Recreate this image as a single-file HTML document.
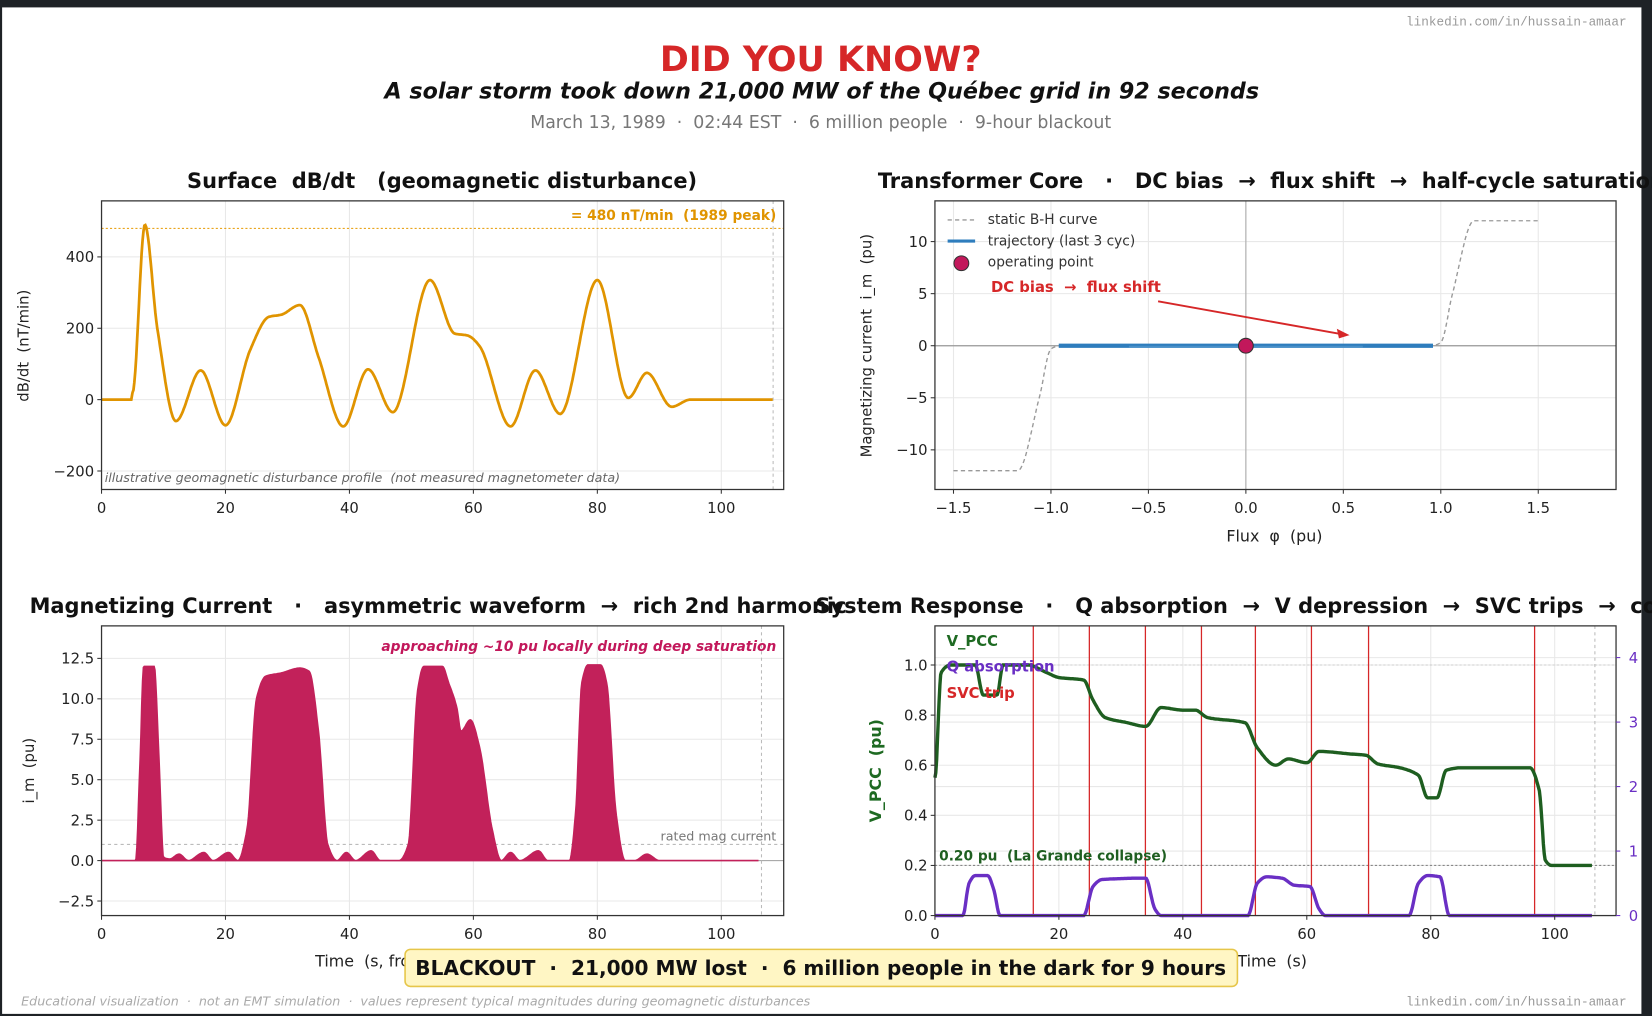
<!DOCTYPE html>
<html><head><meta charset="utf-8"><style>
html,body{margin:0;padding:0;background:#222;}
svg{display:block}
text{font-family:"DejaVu Sans","Liberation Sans",sans-serif;white-space:pre}
</style></head><body>
<svg id="s" width="1652" height="1016" viewBox="0 0 1562 961" preserveAspectRatio="none" xmlns="http://www.w3.org/2000/svg" xml:space="preserve">
<rect x="0" y="0" width="1562" height="961" fill="#1e2226"/>
<rect x="2" y="7" width="1550" height="952" fill="#ffffff"/>
<text x="1538" y="24" font-size="12" fill="#999" text-anchor="end" style="font-family:'Liberation Mono',monospace">linkedin.com/in/hussain-amaar</text>
<text x="776" y="67" font-size="33" font-weight="bold" fill="#d62728" text-anchor="middle">DID YOU KNOW?</text>
<text x="777" y="93" font-size="21" font-weight="bold" font-style="italic" fill="#111" text-anchor="middle">A solar storm took down 21,000 MW of the Québec grid in 92 seconds</text>
<text x="776" y="121" font-size="16.4" fill="#777" text-anchor="middle">March 13, 1989  ·  02:44 EST  ·  6 million people  ·  9-hour blackout</text>

<g id="g1"></g><g id="g2"></g><g id="g3"></g><g id="g4"></g>

<rect x="383" y="898" width="787" height="35" rx="5" fill="#fff6c4" stroke="#e6c64a" stroke-width="1.5"/>
<text x="776" y="922" font-size="19" font-weight="bold" fill="#111" text-anchor="middle">BLACKOUT  ·  21,000 MW lost  ·  6 million people in the dark for 9 hours</text>
<text x="20" y="951" font-size="12" font-style="italic" fill="#aaa">Educational visualization  ·  not an EMT simulation  ·  values represent typical magnitudes during geomagnetic disturbances</text>
<text x="1538" y="951" font-size="12" fill="#999" text-anchor="end" style="font-family:'Liberation Mono',monospace">linkedin.com/in/hussain-amaar</text>
</svg>
<script>
const NS="http://www.w3.org/2000/svg";
const TF=19.8;
function el(p,t,a,txt){const e=document.createElementNS(NS,t);for(const k in a)e.setAttribute(k,a[k]);if(txt!=null)e.textContent=txt;p.appendChild(e);return e;}
function interp(pts,t){
 const n=pts.length;
 if(t<=pts[0][0])return pts[0][1];
 if(t>=pts[n-1][0])return pts[n-1][1];
 function m(i){if(i<=0||i>=n-1)return 0;const a=pts[i-1],b=pts[i],c=pts[i+1];const s1=(b[1]-a[1])/(b[0]-a[0]),s2=(c[1]-b[1])/(c[0]-b[0]);if(s1*s2<=0)return 0;return 2/(1/s1+1/s2);}
 for(let i=0;i<n-1;i++){const a=pts[i],b=pts[i+1];if(t<=b[0]){const h=b[0]-a[0],u=(t-a[0])/h;const h00=2*u*u*u-3*u*u+1,h10=u*u*u-2*u*u+u,h01=-2*u*u*u+3*u*u,h11=u*u*u-u*u;return h00*a[1]+h10*h*m(i)+h01*b[1]+h11*h*m(i+1);}}
 return pts[n-1][1];}
function path(pts,t0,t1,fx,fy,n){let d="";for(let i=0;i<=n;i++){const t=t0+(t1-t0)*i/n;d+=(i?"L":"M")+fx(t).toFixed(1)+" "+fy(interp(pts,t)).toFixed(1);}return d;}
function axes(g,x0,y0,x1,y1){el(g,"rect",{x:x0,y:y0,width:x1-x0,height:y1-y0,fill:"none",stroke:"#333","stroke-width":1.2});}
function grid(g,x0,y0,x1,y1,xs,ys){xs.forEach(x=>el(g,"line",{x1:x,x2:x,y1:y0,y2:y1,stroke:"#e8e8e8"}));ys.forEach(y=>el(g,"line",{x1:x0,x2:x1,y1:y,y2:y,stroke:"#e8e8e8"}));}
function yt(g,x,y,s,col){el(g,"line",{x1:x-4,x2:x,y1:y,y2:y,stroke:col||"#333"});el(g,"text",{x:x-7,y:y+5,"font-size":14,"text-anchor":"end",fill:col||"#222"},s);}
function xt(g,x,y,s){el(g,"line",{x1:x,x2:x,y1:y,y2:y+4,stroke:"#333"});el(g,"text",{x:x,y:y+22,"font-size":14,"text-anchor":"middle",fill:"#222"},s);}
const fxT=t=>96+t*5.86;
// Panel 1
(function(){const g=document.getElementById("g1");const fy=v=>378-v*0.3375;
grid(g,96,190,741,463,[0,20,40,60,80,100].map(fxT),[400,200,0,-200].map(fy));
el(g,"line",{x1:96,x2:741,y1:fy(480),y2:fy(480),stroke:"#e69a00","stroke-dasharray":"2,2","stroke-width":1});
el(g,"line",{x1:731,x2:731,y1:190,y2:463,stroke:"#bbb","stroke-dasharray":"3,3"});
const pts=[[5,20],[7,490],[9,200],[12,-60],[16,82],[20,-72],[24,140],[27,232],[29,238],[32,265],[35,120],[39,-75],[43,85],[47,-35],[53,335],[57,185],[59,180],[61,150],[66,-75],[70,82],[74,-40],[80,335],[85,5],[88,75],[92,-20],[95,0],[108.3,0]];
let d="M96 378L"+fxT(4.8)+" 378L"+fxT(5)+" "+fy(20)+path(pts,5,108.3,fxT,fy,700).replace(/^M/,"L");
el(g,"path",{d:d,fill:"none",stroke:"#e09400","stroke-width":2.6});
axes(g,96,190,741,463);
[[400,"400"],[200,"200"],[0,"0"],[-200,"−200"]].forEach(a=>yt(g,96,fy(a[0]),a[1]));
[0,20,40,60,80,100].forEach(t=>xt(g,fxT(t),463,t));
el(g,"text",{x:734,y:208,"font-size":13,"font-weight":"bold",fill:"#e09400","text-anchor":"end"},"= 480 nT/min  (1989 peak)");
el(g,"text",{x:99,y:456,"font-size":12,"font-style":"italic",fill:"#666"},"illustrative geomagnetic disturbance profile  (not measured magnetometer data)");
el(g,"text",{x:418,y:178,"font-size":TF,"font-weight":"bold","text-anchor":"middle",fill:"#111"},"Surface  dB/dt   (geomagnetic disturbance)");
el(g,"text",{transform:"translate(27,327) rotate(-90)","font-size":14,"text-anchor":"middle",fill:"#222"},"dB/dt  (nT/min)");
})();
// Panel 2
(function(){const g=document.getElementById("g2");const fx=v=>1178+v*184.3,fy=v=>327-v*9.85;
grid(g,884,190,1528,463,[-1.5,-1,-0.5,0,0.5,1,1.5].map(fx),[10,5,0,-5,-10].map(fy));
el(g,"line",{x1:884,x2:1528,y1:327,y2:327,stroke:"#999","stroke-width":1.2});
el(g,"line",{x1:1178,x2:1178,y1:190,y2:463,stroke:"#aaa","stroke-width":1});
const bh=[[-1.5,-12],[-1.17,-12],[-1.06,-5],[-1,-0.3],[-0.95,0],[0.95,0],[1,0.3],[1.06,5],[1.17,12],[1.5,12]];
el(g,"path",{d:path(bh,-1.5,1.5,fx,fy,400),fill:"none",stroke:"#999","stroke-width":1.3,"stroke-dasharray":"4,3"});
el(g,"line",{x1:fx(-0.96),x2:fx(0.96),y1:327,y2:327,stroke:"#2e7dbd","stroke-width":4});
el(g,"line",{x1:fx(-0.6),x2:fx(0.6),y1:328,y2:328,stroke:"#5a9bd0","stroke-width":2,opacity:0.6});
el(g,"circle",{cx:1178,cy:327,r:7,fill:"#c2185b",stroke:"#333","stroke-width":1});
el(g,"line",{x1:1095,x2:1268,y1:285,y2:316,stroke:"#d62728","stroke-width":1.8});
el(g,"path",{d:"M1276 317 L1264 311 L1266 320 Z",fill:"#d62728"});
el(g,"text",{x:937,y:276,"font-size":14,"font-weight":"bold",fill:"#d62728"},"DC bias  →  flux shift");
el(g,"line",{x1:896,x2:922,y1:208,y2:208,stroke:"#999","stroke-dasharray":"4,3","stroke-width":1.3});
el(g,"line",{x1:896,x2:922,y1:228,y2:228,stroke:"#2e7dbd","stroke-width":3});
el(g,"circle",{cx:909,cy:249,r:7,fill:"#c2185b",stroke:"#333"});
[["static B-H curve",212],["trajectory (last 3 cyc)",232],["operating point",252]].forEach(a=>el(g,"text",{x:934,y:a[1],"font-size":13,fill:"#333"},a[0]));
axes(g,884,190,1528,463);
[[10,"10"],[5,"5"],[0,"0"],[-5,"−5"],[-10,"−10"]].forEach(a=>yt(g,884,fy(a[0]),a[1]));
[[-1.5,"−1.5"],[-1,"−1.0"],[-0.5,"−0.5"],[0,"0.0"],[0.5,"0.5"],[1,"1.0"],[1.5,"1.5"]].forEach(a=>xt(g,fx(a[0]),463,a[1]));
el(g,"text",{x:1205,y:512,"font-size":15,"text-anchor":"middle",fill:"#222"},"Flux  φ  (pu)");
el(g,"text",{transform:"translate(824,327) rotate(-90)","font-size":14,"text-anchor":"middle",fill:"#222"},"Magnetizing current  i_m  (pu)");
el(g,"text",{x:830,y:178,"font-size":TF,"font-weight":"bold",fill:"#111"},"Transformer Core   ·   DC bias  →  flux shift  →  half-cycle saturation");
})();
// Panel 3
(function(){const g=document.getElementById("g3");const fy=v=>814-v*15.3;
grid(g,96,592,741,866,[0,20,40,60,80,100].map(fxT),[12.5,10,7.5,5,2.5,0,-2.5].map(fy));
el(g,"line",{x1:96,x2:741,y1:814,y2:814,stroke:"#aaa"});
el(g,"line",{x1:96,x2:741,y1:fy(1),y2:fy(1),stroke:"#bbb","stroke-dasharray":"3,3"});
el(g,"line",{x1:720,x2:720,y1:592,y2:866,stroke:"#bbb","stroke-dasharray":"3,3"});
const pts=[[0,0],[5.5,0],[6.2,6],[6.8,12],[8.5,12],[9.3,6],[10,0.2],[11,0.1],[12.5,0.4],[14,0],[16.5,0.5],[18,0],[20.5,0.5],[22,0],[23.5,2],[25,10],[26.5,11.4],[29,11.6],[32,11.9],[33.5,11.7],[35,8],[36.5,1],[38,0],[39.5,0.5],[41,0],[43.5,0.6],[45,0],[48,0],[49.5,1],[51,10.5],[52,12],[55,12],[56,11],[57.3,9.5],[58,8],[59.5,8.7],[61,7],[63,2],[64.5,0],[66,0.5],[67.5,0],[70.5,0.6],[72,0],[75.5,0],[76.5,3],[77.5,11],[78.5,12.1],[80.5,12.1],[81.5,11],[83,3],[84.5,0],[86,0],[88,0.4],[90,0],[106,0]];
const d="M96 814"+path(pts,0,106,fxT,fy,800).replace(/^M/,"L")+"L"+fxT(106)+" 814Z";
el(g,"path",{d:d,fill:"#c2215a",stroke:"#c2215a","stroke-width":1.5});
axes(g,96,592,741,866);
[[12.5,"12.5"],[10,"10.0"],[7.5,"7.5"],[5,"5.0"],[2.5,"2.5"],[0,"0.0"],[-2.5,"−2.5"]].forEach(a=>yt(g,96,fy(a[0]),a[1]));
[0,20,40,60,80,100].forEach(t=>xt(g,fxT(t),866,t));
el(g,"text",{x:734,y:616,"font-size":13,"font-weight":"bold","font-style":"italic",fill:"#c2185b","text-anchor":"end"},"approaching ~10 pu locally during deep saturation");
el(g,"text",{x:734,y:795,"font-size":12,fill:"#777","text-anchor":"end"},"rated mag current");
el(g,"text",{x:298,y:914,"font-size":15,fill:"#222"},"Time  (s, from storm onset)");
el(g,"text",{transform:"translate(32,729) rotate(-90)","font-size":14,"text-anchor":"middle",fill:"#222"},"i_m  (pu)");
el(g,"text",{x:28,y:580,"font-size":TF,"font-weight":"bold",fill:"#111"},"Magnetizing Current   ·   asymmetric waveform  →  rich 2nd harmonic");
})();
// Panel 4
(function(){const g=document.getElementById("g4");const fx=t=>884+t*5.86,fy=v=>866-v*237,fq=q=>866-q*61;
grid(g,884,592,1528,866,[0,20,40,60,80,100].map(fx),[1,0.8,0.6,0.4,0.2,0].map(fy).concat([1,2,3,4].map(fq)));
el(g,"line",{x1:884,x2:1528,y1:fy(0.2),y2:fy(0.2),stroke:"#888","stroke-dasharray":"2,2"});
el(g,"line",{x1:884,x2:1528,y1:fy(1),y2:fy(1),stroke:"#ccc","stroke-dasharray":"2,2"});
el(g,"line",{x1:1508,x2:1508,y1:592,y2:866,stroke:"#bbb","stroke-dasharray":"3,3"});
[977,1030,1083,1136,1187,1240,1294,1451].forEach(x=>el(g,"line",{x1:x,x2:x,y1:592,y2:866,stroke:"#d62728","stroke-width":1.2}));
const q=[[0,0],[4.5,0],[5.5,0.5],[6.5,0.62],[8.5,0.62],[9.5,0.4],[10.5,0],[24,0],[25.5,0.45],[27,0.56],[34,0.58],[35.5,0.1],[36.5,0],[50.5,0],[52,0.5],[53.5,0.6],[56,0.58],[58,0.47],[60.5,0.45],[62,0.1],[63,0],[76.5,0],[78,0.5],[79.5,0.62],[81.5,0.6],[83,0],[106,0]];
el(g,"path",{d:path(q,0,106,fx,fq,600),fill:"none",stroke:"#6a2fc4","stroke-width":3.2});
const v=[[0,0.55],[1,0.97],[2.5,1.0],[6.5,1.0],[7.8,0.88],[10,0.88],[11,1.0],[15,1.0],[18,0.97],[20,0.95],[24,0.94],[25.5,0.86],[27.5,0.79],[31,0.77],[34,0.755],[36.5,0.83],[40,0.82],[42,0.82],[44,0.79],[50,0.77],[52,0.67],[55,0.6],[57,0.625],[60,0.61],[62,0.655],[67,0.645],[69.5,0.64],[71.5,0.605],[75,0.59],[78,0.56],[79.5,0.47],[81,0.47],[82.5,0.58],[85,0.59],[96,0.59],[97.5,0.5],[98.5,0.22],[99.5,0.2],[106,0.2]];
el(g,"path",{d:path(v,0,106,fx,fy,800),fill:"none",stroke:"#1e5e20","stroke-width":3.2});
axes(g,884,592,1528,866);
[[1,"1.0"],[0.8,"0.8"],[0.6,"0.6"],[0.4,"0.4"],[0.2,"0.2"],[0,"0.0"]].forEach(a=>yt(g,884,fy(a[0]),a[1]));
[0,1,2,3,4].forEach(k=>{el(g,"line",{x1:1528,x2:1532,y1:fq(k),y2:fq(k),stroke:"#6a2fc4"});el(g,"text",{x:1540,y:fq(k)+5,"font-size":14,fill:"#6a2fc4"},k);});
[0,20,40,60,80,100].forEach(t=>xt(g,fx(t),866,t));
el(g,"text",{x:888,y:814,"font-size":13,"font-weight":"bold",fill:"#1e5e20"},"0.20 pu  (La Grande collapse)");
el(g,"text",{x:895,y:611,"font-size":14,"font-weight":"bold",fill:"#1e6a22"},"V_PCC");
el(g,"text",{x:895,y:635,"font-size":14,"font-weight":"bold",fill:"#6a2fc4"},"Q absorption");
el(g,"text",{x:895,y:660,"font-size":14,"font-weight":"bold",fill:"#d62728"},"SVC trip");
el(g,"text",{x:1170,y:914,"font-size":15,fill:"#222"},"Time  (s)");
el(g,"text",{transform:"translate(833,729) rotate(-90)","font-size":15,"font-weight":"bold","text-anchor":"middle",fill:"#1e6a22"},"V_PCC  (pu)");
el(g,"text",{x:771,y:580,"font-size":TF,"font-weight":"bold",fill:"#111"},"System Response   ·   Q absorption  →  V depression  →  SVC trips  →  collapse");
})();
</script>
</body></html>
